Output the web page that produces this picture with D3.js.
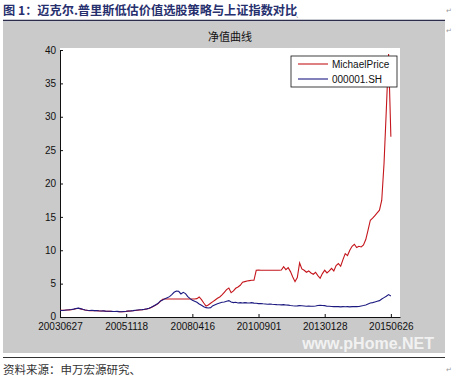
<!DOCTYPE html>
<html>
<head>
<meta charset="utf-8">
<script src="https://cdn.jsdelivr.net/npm/d3@7"></script>
<style>
body{margin:0;background:#fff;}
svg text{font-family:"Liberation Sans",Arial,sans-serif;}
.cn{font-family:"Noto Sans CJK SC","Liberation Sans",sans-serif;}
</style>
</head>
<body>
<div id="chart"></div>
<script>
// ---- data (one sample every 20 trading days) ----
var step = 20;
var tickIdx = [0, 580, 1160, 1740, 2320, 2900];
var tickLabels = ["20030627", "20051118", "20080416", "20100901", "20130128", "20150626"];
var yTicks = [0, 5, 10, 15, 20, 25, 30, 35, 40];
var seriesNames = ["MichaelPrice", "000001.SH"];

var priceVals = [1.00,0.99,1.01,1.04,1.07,1.10,1.15,1.24,1.30,1.22,
  1.13,1.05,0.99,0.96,0.98,0.94,0.96,0.92,0.89,0.90,
  0.87,0.85,0.86,0.83,0.82,0.83,0.80,0.79,0.81,0.84,
  0.88,0.91,0.94,0.98,1.02,1.06,1.09,1.14,1.20,1.28,
  1.42,1.60,1.80,2.00,2.35,2.65,2.70,2.70,2.70,2.70,
  2.70,2.70,2.70,2.70,2.70,2.70,2.70,2.70,2.70,2.70,
  2.75,3.00,2.60,2.10,1.65,1.80,2.05,2.30,2.55,2.80,
  3.00,3.30,3.70,4.10,4.35,3.65,3.90,4.30,4.50,4.75,
  5.20,5.30,5.40,5.45,5.50,5.50,7.00,7.05,7.00,7.00,
  7.00,7.00,7.00,7.00,7.00,7.00,7.00,7.05,7.55,7.10,
  7.40,6.80,6.00,5.30,5.90,8.10,7.20,7.00,6.70,6.90,
  6.60,6.40,6.70,6.20,5.80,6.50,7.00,6.60,6.90,7.30,
  6.90,7.70,8.00,7.60,8.60,9.50,9.20,10.0,10.6,10.9,
  10.4,10.6,10.5,10.8,11.6,13.0,14.5,14.8,15.2,15.6,
  16.0,17.5,23.0,31.0,39.4,27.0];

var indexVals = [1.00,0.98,1.02,1.05,1.08,1.12,1.18,1.28,1.33,1.25,
  1.15,1.06,1.00,0.97,1.00,0.95,0.97,0.93,0.90,0.92,
  0.88,0.86,0.87,0.84,0.82,0.84,0.80,0.78,0.82,0.85,
  0.90,0.92,0.95,1.00,1.04,1.08,1.10,1.15,1.22,1.30,
  1.45,1.65,1.85,2.05,2.40,2.55,2.75,2.90,3.05,3.35,
  3.70,3.90,3.85,3.45,3.70,3.50,3.05,2.75,2.50,2.35,
  2.20,1.95,1.75,1.55,1.40,1.35,1.40,1.70,1.85,2.00,
  2.10,2.20,2.25,2.35,2.45,2.25,2.15,2.20,2.10,2.15,
  2.10,2.15,2.12,2.10,2.15,2.08,2.05,2.00,2.02,1.98,
  1.95,1.92,1.95,1.90,1.88,1.85,1.83,1.82,1.85,1.80,
  1.78,1.72,1.68,1.65,1.66,1.70,1.68,1.65,1.62,1.63,
  1.60,1.62,1.65,1.72,1.75,1.72,1.70,1.62,1.60,1.58,
  1.55,1.58,1.55,1.52,1.55,1.53,1.55,1.52,1.55,1.58,
  1.55,1.58,1.65,1.72,1.80,1.95,2.10,2.15,2.25,2.35,
  2.45,2.70,2.90,3.10,3.35,3.15];

var W = 452, H = 380;
var svg = d3.select("#chart").append("svg").attr("width", W).attr("height", H);

// page title + rule
svg.append("text").attr("class", "cn").attr("x", 3).attr("y", 15)
  .attr("font-size", 12.2).attr("font-weight", "bold").attr("fill", "#27306e")
  .text("图 1：迈克尔.普里斯低估价值选股策略与上证指数对比");
svg.append("text").attr("class", "cn").attr("x", 296).attr("y", 17)
  .attr("font-size", 6).attr("fill", "#888").text("、");
svg.append("line").attr("x1", 3).attr("x2", 445).attr("y1", 20.5).attr("y2", 20.5)
  .attr("stroke", "#2b2d4a").attr("stroke-width", 1.3);

// paragraph marks at the right edge
[13, 33, 372].forEach(function(py) {
  svg.append("text").attr("x", 446).attr("y", py).attr("font-size", 7)
    .attr("fill", "#999").text("↵");
});

// figure background
svg.append("rect").attr("x", 3).attr("y", 22).attr("width", 442).attr("height", 331)
  .attr("fill", "#cacaca");

var m = {left: 60, right: 400, top: 50, bottom: 317};
svg.append("rect").attr("x", m.left).attr("y", m.top - 2)
  .attr("width", m.right - m.left).attr("height", m.bottom - m.top + 2).attr("fill", "#fff");

var x = d3.scaleLinear().domain([0, 2980]).range([m.left, m.right]);
var y = d3.scaleLinear().domain([0, 40]).range([m.bottom, m.top]);

svg.append("text").attr("class", "cn").attr("x", (m.left + m.right) / 2).attr("y", 41)
  .attr("text-anchor", "middle").attr("font-size", 11).attr("fill", "#111").text("净值曲线");

var xAxis = d3.axisBottom(x).tickValues(tickIdx)
  .tickFormat(function(d, i) { return tickLabels[i]; }).tickSizeInner(-3).tickSizeOuter(0).tickPadding(6);
var yAxis = d3.axisLeft(y).tickValues(yTicks).tickSizeInner(-3).tickSizeOuter(0).tickPadding(4);

var gx = svg.append("g").attr("transform", "translate(0," + m.bottom + ")").call(xAxis);
var gy = svg.append("g").attr("transform", "translate(" + m.left + ",0)").call(yAxis);
[gx, gy].forEach(function(g) {
  g.selectAll("text").attr("font-size", 10).attr("fill", "#111")
    .attr("font-family", "Liberation Sans, Arial, sans-serif");
  g.selectAll("line").attr("stroke", "#111");
  g.select(".domain").attr("stroke", "#111");
});
gy.selectAll(".tick text").filter(function(d) { return d === 0; }).attr("dy", "0.2em");

var line = d3.line()
  .x(function(d, i) { return x(i * step); })
  .y(function(d) { return y(d); });

var colors = ["#c4161c", "#1c1a80"];
svg.append("path").datum(priceVals).attr("d", line)
  .attr("fill", "none").attr("stroke", colors[0]).attr("stroke-width", 1.1);
svg.append("path").datum(indexVals).attr("d", line)
  .attr("fill", "none").attr("stroke", colors[1]).attr("stroke-width", 1.1);

// legend (drawn over the lines)
var lg = svg.append("g").attr("transform", "translate(291,56)");
lg.append("rect").attr("width", 106).attr("height", 31)
  .attr("fill", "#ffffff").attr("stroke", "#111").attr("stroke-width", 0.8);
seriesNames.forEach(function(n, i) {
  lg.append("line").attr("x1", 7).attr("x2", 37).attr("y1", 8 + i * 15).attr("y2", 8 + i * 15)
    .attr("stroke", colors[i]).attr("stroke-width", 1.1);
  lg.append("text").attr("x", 41).attr("y", 12 + i * 15).attr("font-size", 10)
    .attr("fill", "#111").text(n);
});

// watermark
svg.append("text").attr("x", 434).attr("y", 349).attr("text-anchor", "end")
  .attr("font-size", 16).attr("font-weight", "bold").attr("fill", "#fff").attr("opacity", 0.75)
  .text("www.pHome.NET");

// footer
svg.append("line").attr("x1", 3).attr("x2", 445).attr("y1", 357.5).attr("y2", 357.5)
  .attr("stroke", "#333").attr("stroke-width", 1);
svg.append("text").attr("class", "cn").attr("x", 3).attr("y", 374)
  .attr("font-size", 11.5).attr("fill", "#333").text("资料来源：申万宏源研究、");
</script>
</body>
</html>
